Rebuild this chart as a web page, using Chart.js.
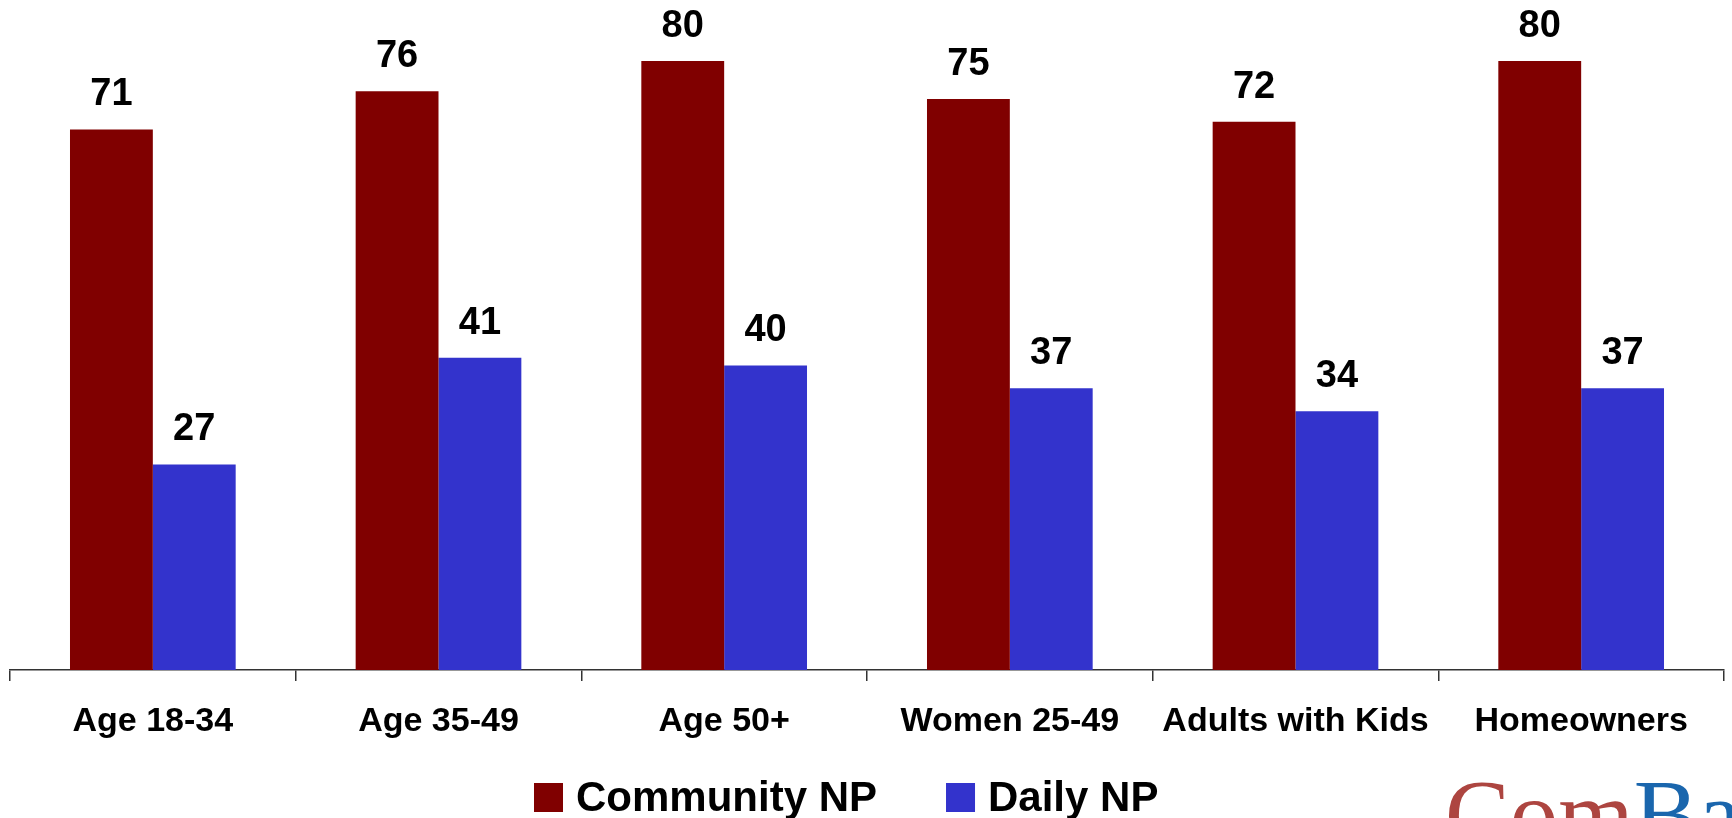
<!DOCTYPE html>
<html>
<head>
<meta charset="utf-8">
<script src="https://cdn.jsdelivr.net/npm/chart.js@4/dist/chart.umd.min.js"></script>
<style>
  html, body { margin: 0; padding: 0; background: #ffffff; }
  #wrap { width: 1732px; height: 818px; position: relative; }
</style>
</head>
<body>
<div id="wrap"><canvas id="c" width="1732" height="818"></canvas></div>
<script>
const categories = ["Age 18-34", "Age 35-49", "Age 50+", "Women 25-49", "Adults with Kids", "Homeowners"];
const communityNP = [71, 76, 80, 75, 72, 80];
const dailyNP = [27, 41, 40, 37, 34, 37];
const seriesNames = ["Community NP", "Daily NP"];
const seriesColors = ["#800000", "#3333CC"];

const FONT = '"Liberation Sans", Arial, Helvetica, sans-serif';

const valueLabels = {
  id: 'valueLabels',
  afterDatasetsDraw(chart) {
    const ctx = chart.ctx;
    ctx.save();
    ctx.font = 'bold 38px ' + FONT;
    ctx.fillStyle = '#000000';
    ctx.textAlign = 'center';
    ctx.textBaseline = 'alphabetic';
    chart.data.datasets.forEach((ds, di) => {
      const meta = chart.getDatasetMeta(di);
      meta.data.forEach((bar, i) => {
        ctx.fillText(String(ds.data[i]), bar.x, bar.y - 24);
      });
    });
    ctx.restore();
  }
};

const customLegend = {
  id: 'customLegend',
  afterDraw(chart) {
    const ctx = chart.ctx;
    ctx.save();
    ctx.font = 'bold 42px ' + FONT;
    ctx.textBaseline = 'alphabetic';
    ctx.textAlign = 'left';
    const box = 29, gapBoxText = 13, gapItems = 69;
    let x = 534;
    const boxTop = 783, baseline = 811;
    chart.data.datasets.forEach((ds) => {
      ctx.fillStyle = ds.backgroundColor;
      ctx.fillRect(x, boxTop, box, box);
      ctx.fillStyle = '#000000';
      ctx.fillText(ds.label, x + box + gapBoxText, baseline);
      x += box + gapBoxText + ctx.measureText(ds.label).width + gapItems;
    });
    // partial logo at bottom right
    ctx.font = '97px "Liberation Serif", "Times New Roman", serif';
    ctx.fillStyle = '#ad4540';
    ctx.fillText('Com', 1445, 847);
    const w = ctx.measureText('Com').width;
    ctx.fillStyle = '#1a66ad';
    ctx.fillText('Base', 1445 + w, 847);
    ctx.restore();
  }
};

new Chart(document.getElementById('c'), {
  type: 'bar',
  data: {
    labels: categories,
    datasets: [
      { label: seriesNames[0], data: communityNP, backgroundColor: seriesColors[0], borderWidth: 0 },
      { label: seriesNames[1], data: dailyNP, backgroundColor: seriesColors[1], borderWidth: 0 }
    ]
  },
  options: {
    responsive: false,
    animation: false,
    devicePixelRatio: 1,
    layout: { padding: { left: 10, right: 8, top: 0, bottom: 63 } },
    plugins: {
      legend: { display: false },
      tooltip: { enabled: false }
    },
    datasets: {
      bar: { categoryPercentage: 0.58, barPercentage: 1.0 }
    },
    scales: {
      x: {
        offset: true,
        grid: {
          offset: true,
          drawOnChartArea: false,
          drawTicks: true,
          tickLength: 11,
          color: '#333333',
          lineWidth: 1.5
        },
        border: { display: true, color: '#333333', width: 1.5 },
        ticks: {
          color: '#000000',
          font: { family: FONT, size: 34, weight: 'bold' },
          padding: 20,
          maxRotation: 0,
          autoSkip: false
        },
        afterFit(scale) { scale.height = 85; }
      },
      y: {
        display: false,
        min: 0,
        max: 88,
        beginAtZero: true
      }
    }
  },
  plugins: [valueLabels, customLegend]
});
</script>
</body>
</html>
